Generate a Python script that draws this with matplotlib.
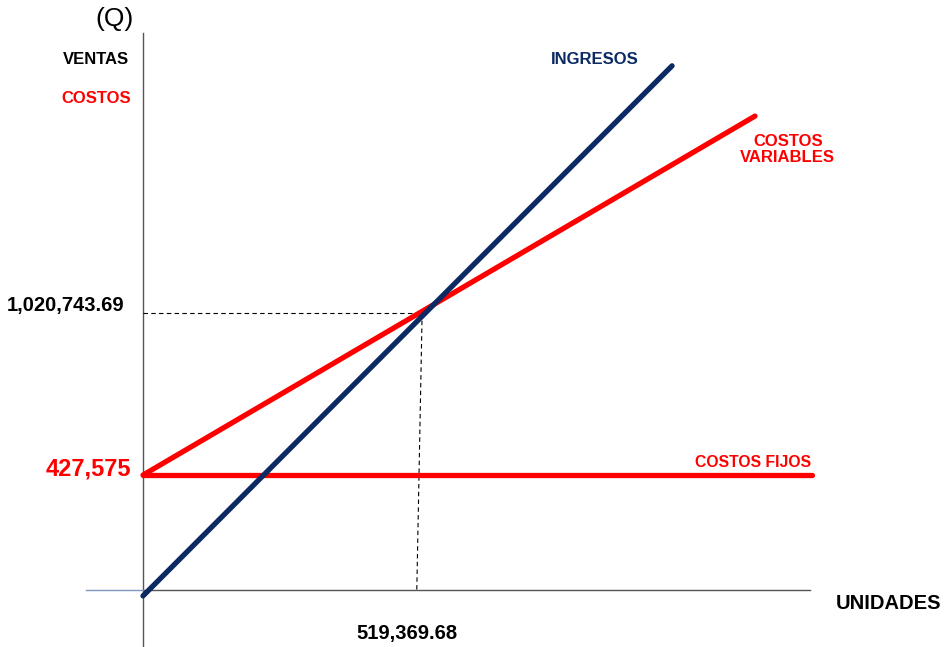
import matplotlib
matplotlib.use('Agg')
import matplotlib.pyplot as plt

plt.rcParams['font.family'] = ['Liberation Sans', 'DejaVu Sans']

# Break-even data (units, quetzales)
break_even_units = 519369.68
break_even_sales = 1020743.69
fixed_cost = 427575

# Line end points
ingresos_x = [0, 992000]
ingresos_y = [-22000, 1950000]
variables_x = [0, 1147500]
variables_y = [fixed_cost, 1763000]
fijos_x = [0, 1254000]
fijos_y = [fixed_cost, fixed_cost]

navy = '#0b2a63'
red = '#ff0000'

fig = plt.figure(figsize=(9.45, 6.47), dpi=100)
ax = fig.add_axes([0, 0, 1, 1])
ax.set_xlim(-268125, 1503750)
ax.set_ylim(-212040, 2194800)
ax.axis('off')

# axes drawn by hand
ax.plot([0, 0], [-212040, 2072000], color='#555555', lw=1.0)
ax.plot([0, 1251000], [0, 0], color='#555555', lw=1.0)
ax.plot([-107000, 0], [0, 0], color='#7f96bf', lw=1.0)

# guide lines to the break-even point
ax.plot([0, break_even_units + 4000], [break_even_sales + 10000, break_even_sales + 10000],
        color='black', lw=0.8, ls=(0, (4, 3)))
ax.plot([break_even_units + 4000, break_even_units - 6000], [break_even_sales + 10000, 0],
        color='black', lw=0.8, ls=(0, (4, 3)))

ax.plot(fijos_x, fijos_y, color=red, lw=3.8, solid_capstyle='round')
ax.plot(variables_x, variables_y, color=red, lw=3.8, solid_capstyle='round')
ax.plot(ingresos_x, ingresos_y, color=navy, lw=3.8, solid_capstyle='round')

fs = 12
ax.text(-54000, 2124000, '(Q)', fontsize=19, ha='center', va='center')
ax.text(-26000, 1975000, 'VENTAS', fontsize=fs, fontweight='bold', ha='right', va='center')
ax.text(-22000, 1830000, 'COSTOS', fontsize=fs, fontweight='bold', color=red, ha='right', va='center')
ax.text(-34000, 1060000, '{:,.2f}'.format(break_even_sales), fontsize=14.5,
        fontweight='bold', ha='right', va='center')
ax.text(-22000, 450000, '{:,}'.format(fixed_cost), fontsize=17,
        fontweight='bold', color=red, ha='right', va='center')
ax.text(495000, -160000, '{:,.2f}'.format(break_even_units), fontsize=14.5,
        fontweight='bold', ha='center', va='center')
ax.text(1497000, -50000, 'UNIDADES', fontsize=14.5, fontweight='bold', ha='right', va='center')
ax.text(847500, 1975000, 'INGRESOS', fontsize=fs, fontweight='bold', color=navy,
        ha='center', va='center')
ax.text(1209000, 1640000, 'COSTOS\nVARIABLES', fontsize=fs, fontweight='bold', color=red,
        ha='center', va='center', linespacing=1.1)
ax.text(1253000, 476000, 'COSTOS FIJOS', fontsize=11.3, fontweight='bold', color=red,
        ha='right', va='center')

fig.savefig('out.png', dpi=100)
